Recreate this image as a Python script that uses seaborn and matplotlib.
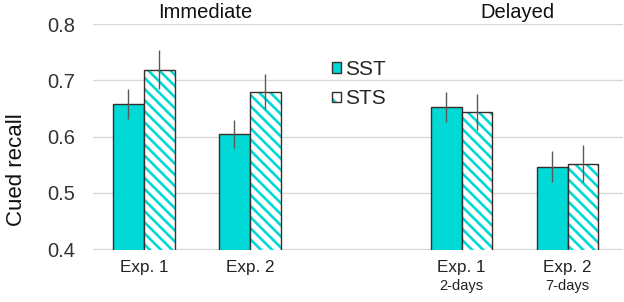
import matplotlib
matplotlib.use("Agg")
import matplotlib.pyplot as plt
import seaborn as sns
import pandas as pd
from matplotlib.patches import Rectangle, Patch
from matplotlib.container import BarContainer
from matplotlib.legend_handler import HandlerTuple

categories = ["Exp. 1", "Exp. 2", "", "Exp. 1 ", "Exp. 2 "]
sublabels = ["", "", "", "2-days", "7-days"]
conditions = ["SST", "STS"]
plot_categories = ["Exp. 1", "Exp. 2", "Exp. 1 ", "Exp. 2 "]
sst_values = [0.658, 0.605, 0.653, 0.547]
sts_values = [0.719, 0.680, 0.643, 0.552]
sst_err = [0.027, 0.025, 0.027, 0.027]
sts_err = [0.035, 0.031, 0.032, 0.033]
group_titles = ["Immediate", "Delayed"]
yticks = [0.4, 0.5, 0.6, 0.7, 0.8]

CYAN = "#00D9D5"
EDGE = "#3b2b2b"

sns.set_theme(style="white")
plt.rcParams["font.family"] = ["Arial", "Liberation Sans", "DejaVu Sans"]
plt.rcParams["hatch.linewidth"] = 1.9

df = pd.DataFrame({
    "cat": plot_categories * 2,
    "cond": ["SST"] * 4 + ["STS"] * 4,
    "val": sst_values + sts_values,
    "err": sst_err + sts_err,
})

fig, ax = plt.subplots(figsize=(6.24, 3.02), dpi=100)
fig.subplots_adjust(left=0.149, right=0.998, top=0.92, bottom=0.172)

sns.barplot(data=df, x="cat", y="val", hue="cond", order=categories,
            hue_order=conditions, palette=[CYAN, CYAN], errorbar=None,
            width=0.58, gap=0, ax=ax, legend=False, saturation=1)

# style bars and draw error bars
conts = [c for c in ax.containers if isinstance(c, BarContainer)]
for ci, cont in enumerate(conts):
    cond = conditions[ci]
    sub = df[df.cond == cond].set_index("cat")
    xs = []
    for patch in cont:
        x0, y0 = patch.get_x(), patch.get_y()
        w, h = patch.get_width(), patch.get_height()
        if not h or pd.isna(h):
            continue
        xs.append(x0 + w / 2)
        if cond == "STS":
            patch.set_facecolor("white")
            patch.set_edgecolor(CYAN)
            patch.set_hatch("\\\\\\")
            patch.set_linewidth(0)
            ax.add_patch(Rectangle((x0, y0), w, h, fill=False,
                                   edgecolor=EDGE, linewidth=1.0, zorder=patch.get_zorder() + 0.1))
        else:
            patch.set_edgecolor(EDGE)
            patch.set_linewidth(1.0)
    vals = list(sub.loc[plot_categories, "val"])
    errs = list(sub.loc[plot_categories, "err"])
    ax.errorbar(xs, vals, yerr=errs, fmt="none", ecolor="#595959",
                elinewidth=1.0, capsize=0, zorder=5)

ax.set_ylim(0.3985, 0.8)
ax.set_xlim(-0.48, 4.52)
ax.set_yticks(yticks)
ax.set_yticklabels([f"{v:.1f}" for v in yticks], fontsize=14.5, color="#333333")
ax.yaxis.grid(True, color="#d9d9d9", linewidth=1.0)
ax.set_axisbelow(True)
for s in ax.spines.values():
    s.set_visible(False)
ax.tick_params(axis="y", length=0, pad=13)
ax.tick_params(axis="x", length=0, pad=7)
ax.set_xticks(range(len(categories)))
ax.set_xticklabels([c.strip() for c in categories], fontsize=12.3, color="#222222")
for i, s in enumerate(sublabels):
    if s:
        ax.text(i, -0.157, s, transform=ax.get_xaxis_transform(), ha="center",
                va="center", fontsize=10.5, color="#222222")

ax.set_xlabel("")
ax.set_ylabel("Cued recall", fontsize=16, color="#111111")
ax.yaxis.set_label_coords(-0.124, 0.355)

# group titles
ax.text(0.575, 1.01, group_titles[0], transform=ax.get_xaxis_transform(), ha="center",
        va="bottom", fontsize=14.5, color="#111111")
ax.text(3.53, 1.01, group_titles[1], transform=ax.get_xaxis_transform(), ha="center",
        va="bottom", fontsize=14.5, color="#111111")

h_sst = Patch(facecolor=CYAN, edgecolor=EDGE, linewidth=1.0)
h_sts = (Patch(facecolor="white", edgecolor=CYAN, hatch="\\\\", linewidth=0),
         Patch(facecolor="none", edgecolor=EDGE, linewidth=1.0))
leg = ax.legend([h_sst, h_sts], conditions, loc="upper left", bbox_to_anchor=(0.435, 0.878),
                frameon=False, fontsize=15, handlelength=0.42, handleheight=0.42,
                handletextpad=0.2, labelspacing=0.5, borderaxespad=0,
                handler_map={tuple: HandlerTuple(ndivide=1, pad=0)})

fig.savefig("out.png", dpi=100)
